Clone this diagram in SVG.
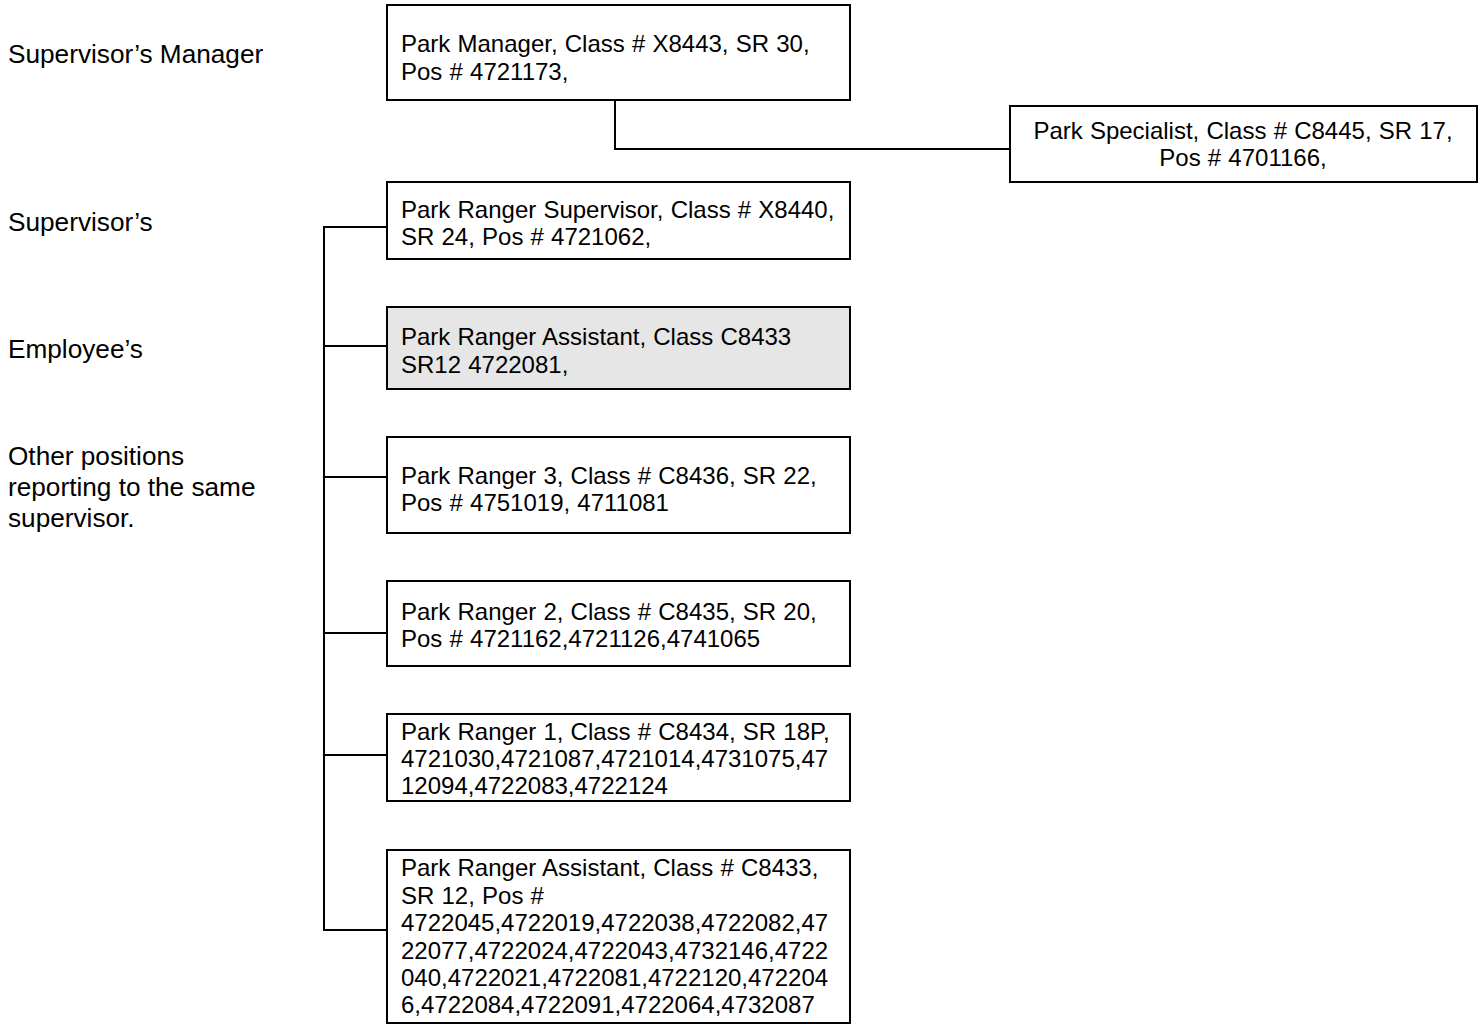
<svg xmlns="http://www.w3.org/2000/svg" width="1480" height="1024" viewBox="0 0 1480 1024">
<style>
.box{fill:#ffffff;stroke:#000000;stroke-width:2}
.gray{fill:#e6e6e6}
.t{font-family:"Liberation Sans",Arial,sans-serif;font-size:24px;word-spacing:0.5px;fill:#000000}
.lbl{font-family:"Liberation Sans",Arial,sans-serif;font-size:26.2px;fill:#000000}
.c{text-anchor:middle}
.conn{fill:none;stroke:#000000;stroke-width:2}
</style>
<rect width="1480" height="1024" fill="#ffffff"/>
<g id="labels">
<text class="lbl" x="8" y="63">Supervisor’s Manager</text>
<text class="lbl" x="8" y="231">Supervisor’s</text>
<text class="lbl" x="8" y="358">Employee’s</text>
<text class="lbl" x="8" y="465">Other positions</text>
<text class="lbl" x="8" y="496">reporting to the same</text>
<text class="lbl" x="8" y="527">supervisor.</text>
</g>
<g id="connectors">
<path class="conn" d="M615,100 V149 H1010"/>
<path class="conn" d="M387,227 H324 V930 H387"/>
<path class="conn" d="M324,346 H387"/>
<path class="conn" d="M324,477 H387"/>
<path class="conn" d="M324,633 H387"/>
<path class="conn" d="M324,755 H387"/>
</g>
<g id="manager">
<rect class="box" x="387" y="5" width="463" height="95"/>
<text class="t" x="401" y="52">Park Manager, Class # X8443, SR 30,</text>
<text class="t" x="401" y="80">Pos # 4721173,</text>
</g>
<g id="specialist">
<rect class="box" x="1010" y="106" width="467" height="76"/>
<text class="t c" x="1243" y="139">Park Specialist, Class # C8445, SR 17,</text>
<text class="t c" x="1243" y="166">Pos # 4701166,</text>
</g>
<g id="supervisor">
<rect class="box" x="387" y="182" width="463" height="77"/>
<text class="t" x="401" y="218">Park Ranger Supervisor, Class # X8440,</text>
<text class="t" x="401" y="245">SR 24, Pos # 4721062,</text>
</g>
<g id="employee">
<rect class="box gray" x="387" y="307" width="463" height="82"/>
<text class="t" x="401" y="345">Park Ranger Assistant, Class C8433</text>
<text class="t" x="401" y="373">SR12 4722081,</text>
</g>
<g id="ranger3">
<rect class="box" x="387" y="437" width="463" height="96"/>
<text class="t" x="401" y="484">Park Ranger 3, Class # C8436, SR 22,</text>
<text class="t" x="401" y="511">Pos # 4751019, 4711081</text>
</g>
<g id="ranger2">
<rect class="box" x="387" y="581" width="463" height="85"/>
<text class="t" x="401" y="620">Park Ranger 2, Class # C8435, SR 20,</text>
<text class="t" x="401" y="647">Pos # 4721162,4721126,4741065</text>
</g>
<g id="ranger1">
<rect class="box" x="387" y="714" width="463" height="87"/>
<text class="t" x="401" y="740">Park Ranger 1, Class # C8434, SR 18P,</text>
<text class="t" x="401" y="767">4721030,4721087,4721014,4731075,47</text>
<text class="t" x="401" y="794">12094,4722083,4722124</text>
</g>
<g id="assistants">
<rect class="box" x="387" y="850" width="463" height="173"/>
<text class="t" x="401" y="876">Park Ranger Assistant, Class # C8433,</text>
<text class="t" x="401" y="904">SR 12, Pos #</text>
<text class="t" x="401" y="931">4722045,4722019,4722038,4722082,47</text>
<text class="t" x="401" y="959">22077,4722024,4722043,4732146,4722</text>
<text class="t" x="401" y="986">040,4722021,4722081,4722120,472204</text>
<text class="t" x="401" y="1013">6,4722084,4722091,4722064,4732087</text>
</g>
</svg>
